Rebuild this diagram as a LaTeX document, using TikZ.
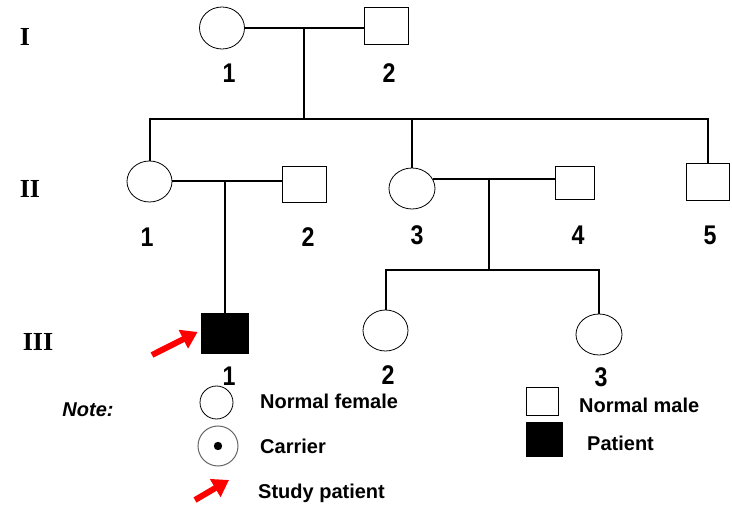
\documentclass[tikz,border=0pt]{standalone}
\usepackage{fontspec}
\setmainfont{Liberation Sans}
\newfontfamily\genfont{Liberation Serif}
\newfontfamily\numfont[FakeStretch=0.86]{Liberation Sans}
\usetikzlibrary{shapes.geometric,arrows.meta}
\begin{document}
\begin{tikzpicture}[x=1pt,y=-1pt,
  female/.style={ellipse, draw, line width=0.8pt, inner sep=0pt},
  male/.style={rectangle, draw, line width=0.8pt, inner sep=0pt},
  link/.style={line width=2pt},
  num/.style={font=\numfont\fontsize{27}{27}\selectfont\bfseries},
  gen/.style={font=\genfont\fontsize{26}{26}\selectfont\bfseries},
  legtext/.style={font=\fontsize{20}{20}\selectfont\bfseries, anchor=west, inner sep=0pt},
  pointer/.style={red, line width=6pt, -{Triangle[length=16pt,width=20pt]}}
]
\useasboundingbox[fill=white] (0,0) rectangle (732,505);

% generation labels
\node[gen] (gI) at (25,37) {I};
\node[gen] (gII) at (30,189) {II};
\node[gen] (gIII) at (38,342) {III};

% generation I
\node[female, minimum width=45pt, minimum height=42pt] (I1) at (222,28) {};
\node[male, minimum width=44pt, minimum height=37pt] (I2) at (386,25.5) {};
\node[num] (nI1) at (229,73) {1};
\node[num] (nI2) at (389,73) {2};

% generation II
\node[female, minimum width=45pt, minimum height=41pt] (II1) at (149.5,181.5) {};
\node[male, minimum width=44pt, minimum height=36pt] (II2) at (304,184) {};
\node[female, minimum width=46pt, minimum height=41pt] (II3) at (412,188.5) {};
\node[male, minimum width=39pt, minimum height=33pt] (II4) at (574.5,182.5) {};
\node[male, minimum width=43pt, minimum height=37pt] (II5) at (707.5,181.5) {};
\node[num] (nII1) at (147,237) {1};
\node[num] (nII2) at (308,237) {2};
\node[num] (nII3) at (417,235) {3};
\node[num] (nII4) at (578,235) {4};
\node[num] (nII5) at (710,235) {5};

% generation III
\node[male, fill=black, minimum width=47pt, minimum height=40pt] (III1) at (224.5,333) {};
\node[female, minimum width=45pt, minimum height=41pt] (III2) at (385.5,330.5) {};
\node[female, minimum width=46pt, minimum height=41pt] (III3) at (599,334.5) {};
\node[num] (nIII1) at (229,376) {1};
\node[num] (nIII2) at (388,375) {2};
\node[num] (nIII3) at (601,377) {3};

% connectors
\coordinate (m1) at (304,28);
\coordinate (s1) at (304,119);
\draw[link] (I1.east) -- (I1.east -| I2.west);
\draw[link] (m1) -- (s1);
\draw[link] (II1.north) -- (II1.north |- s1) -- (II5.north |- s1) -- (II5.north);
\draw[link] (II3.north) -- (II3.north |- s1);

\draw[link] (II1.east) -- (II1.east -| II2.west);
\coordinate (m2) at (II1.east -| III1.north);
\draw[link] (m2) -- (III1.north);

\draw[link] (II3.25) -- (II3.25 -| II4.west);
\coordinate (m3) at (489,179);
\coordinate (s3) at (489,270);
\draw[link] (m3) -- (s3);
\draw[link] (III2.north) -- (III2.north |- s3) -- (III3.north |- s3) -- (III3.north);

% study patient arrow
\coordinate (a1) at (152,355);
\draw[pointer] (a1) -- ([xshift=-3pt,yshift=1pt]III1.west);

% legend
\node[font=\fontsize{20}{20}\selectfont\bfseries\itshape] (note) at (88,410) {Note:};
\node[female, minimum width=33pt, minimum height=33pt] (legF) at (216.5,402.5) {};
\node[legtext] (tF) at (260,401) {Normal female};
\node[circle, draw=black!60, line width=1pt, minimum size=40pt, inner sep=0pt] (legC) at (218,446) {};
\fill (legC.center) circle (4.2pt);
\node[legtext] (tC) at (260,446) {Carrier};
\coordinate (la1) at (195,500);
\coordinate (la2) at (229,480);
\draw[pointer] (la1) -- (la2);
\node[legtext] (tS) at (258,493) {Study patient};
\node[male, minimum width=32pt, minimum height=28pt] (legM) at (542,401) {};
\node[legtext] (tM) at (579,405) {Normal male};
\node[male, fill=black, minimum width=36pt, minimum height=34pt] (legP) at (544,439) {};
\node[legtext] (tP) at (587,443) {Patient};
\end{tikzpicture}
\end{document}
